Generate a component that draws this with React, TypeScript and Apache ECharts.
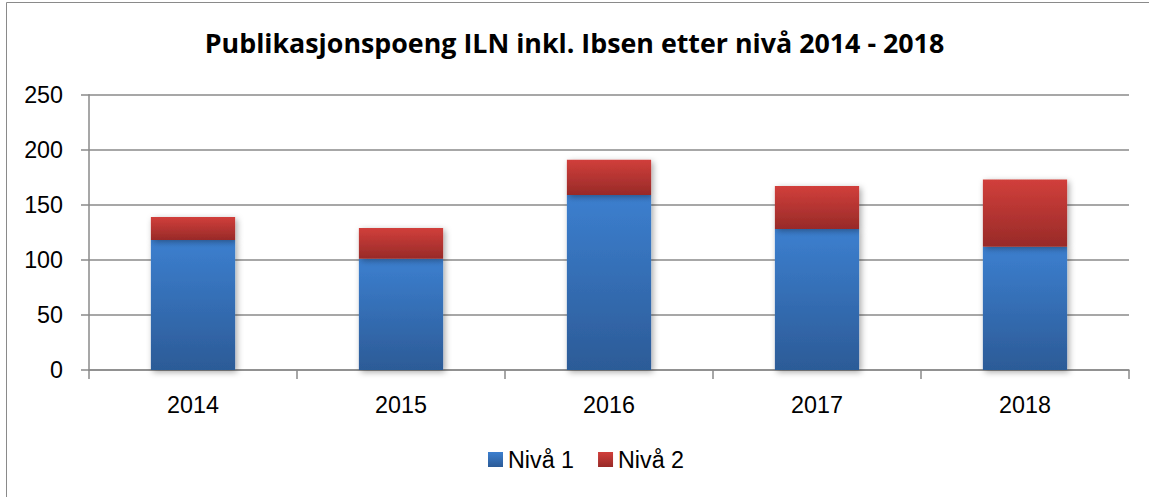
import React, { useEffect, useRef } from "react";
import * as echarts from "echarts";

const titleText = "Publikasjonspoeng ILN inkl. Ibsen etter nivå 2014 - 2018";
const categories = ["2014", "2015", "2016", "2017", "2018"];
const niva1 = [118, 101, 159, 128, 112];
const niva2 = [21, 28, 32, 39, 61];
const seriesNames = ["Nivå 1", "Nivå 2"];

const FONT = "'Liberation Sans', Arial, sans-serif";
const TITLE_FONT = "'Open Sans', 'Liberation Sans', sans-serif";

export default function App() {
  const ref = useRef<HTMLDivElement>(null);
  useEffect(() => {
    document.body.style.margin = "0";
    const chart = echarts.init(ref.current!, null, { renderer: "svg" });
    const blue = new echarts.graphic.LinearGradient(0, 0, 0, 1, [
      { offset: 0, color: "#3c7fcf" },
      { offset: 1, color: "#2c5b97" },
    ]);
    const red = new echarts.graphic.LinearGradient(0, 0, 0, 1, [
      { offset: 0, color: "#d13f3b" },
      { offset: 1, color: "#982a28" },
    ]);
    const shadow = {
      shadowBlur: 6,
      shadowColor: "rgba(0,0,0,0.35)",
      shadowOffsetX: 2,
      shadowOffsetY: 2,
    };
    chart.setOption({
      animation: false,
      backgroundColor: "#fff",
      title: {
        text: titleText,
        left: "center",
        top: 24,
        padding: [5, 0, 5, 10],
        textStyle: { fontFamily: TITLE_FONT, fontWeight: "bold", fontSize: 26.8, color: "#000" },
      },
      graphic: [
        {
          type: "rect",
          shape: { x: 6.5, y: 2.5, width: 1200, height: 600 },
          style: { fill: "none", stroke: "#8a8a8a", lineWidth: 1 },
          silent: true,
        },
      ],
      legend: {
        bottom: 21,
        left: 483,
        itemWidth: 15,
        itemHeight: 15,
        itemGap: 24,
        icon: "rect",
        textStyle: { fontFamily: FONT, fontSize: 23.3, color: "#000" },
        data: seriesNames,
      },
      grid: { left: 89, right: 20, top: 94.7, bottom: 127, containLabel: false },
      xAxis: {
        type: "category",
        data: categories,
        boundaryGap: true,
        axisLine: { lineStyle: { color: "#8a8a8a", width: 1.5 } },
        axisTick: { show: true, length: 9, alignWithLabel: false, lineStyle: { color: "#8a8a8a", width: 1.5 } },
        axisLabel: { fontFamily: FONT, fontSize: 23.3, color: "#000", margin: 23 },
      },
      yAxis: {
        type: "value",
        min: 0,
        max: 250,
        interval: 50,
        axisLine: { show: true, lineStyle: { color: "#8a8a8a", width: 1.5 } },
        axisTick: { show: true, length: 8, lineStyle: { color: "#8a8a8a", width: 1.5 } },
        axisLabel: { fontFamily: FONT, fontSize: 23.3, color: "#000", margin: 26 },
        splitLine: { show: true, lineStyle: { color: "#8a8a8a", width: 1.5 } },
      },
      series: [
        {
          name: seriesNames[0],
          type: "bar",
          stack: "total",
          data: niva1,
          barWidth: "40.5%",
          itemStyle: { color: blue, ...shadow },
        },
        {
          name: seriesNames[1],
          type: "bar",
          stack: "total",
          data: niva2,
          barWidth: "40.5%",
          itemStyle: { color: red, ...shadow },
        },
      ],
    });
    return () => chart.dispose();
  }, []);
  return (
    <div
      ref={ref}
      style={{ position: "absolute", left: 0, top: 0, width: 1149, height: 497 }}
    />
  );
}
